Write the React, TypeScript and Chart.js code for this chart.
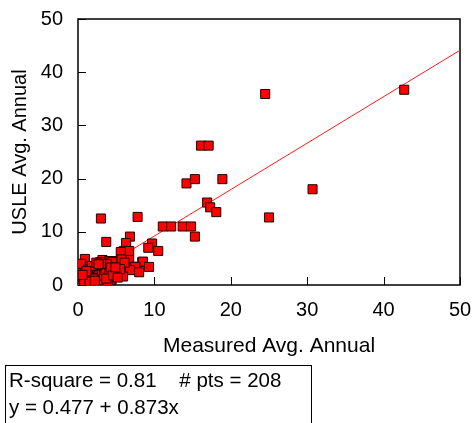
import React, { useEffect, useRef } from "react";
import { Chart, registerables } from "chart.js";

Chart.register(...registerables);

// Measured (x) vs USLE (y) average annual values
const measured: number[] = [
  42.7, 24.5, 16.1, 17.1, 14.2, 15.3, 18.9, 30.7, 16.9, 17.3, 18.1, 25.0,
  7.8, 3.0, 11.1, 12.2, 13.7, 14.8, 15.3, 6.8, 3.7, 6.3, 9.7, 9.2, 10.5,
  6.0, 6.7, 5.6, 0.9, 3.2, 4.1, 5.1, 6.7, 8.4, 8.5, 7.2, 7.5, 9.3, 6.2,
  7.5, 8.0, 6.8, 4.6, 3.3, 3.5, 5.9, 4.0, 4.8, 5.4, 3.8, 4.5, 5.7, 6.1,
  3.6, 4.1, 5.0, 2.8, 3.4, 5.5,
  0.3, 0.5, 0.4, 0.6, 0.4, 0.7, 0.8, 0.9, 1.0, 1.1, 1.2, 1.3, 1.4, 1.5,
  1.6, 1.7, 1.8, 1.9, 2.0, 2.1, 2.2, 2.3, 2.4, 2.5, 2.6, 2.7, 2.8, 2.9,
  3.0, 3.1, 3.2, 3.3, 3.4, 3.6, 3.8, 4.0, 4.1, 4.3, 4.4, 3.9, 2.9, 1.0,
  0.4, 1.3, 2.0, 2.6, 0.8, 1.5, 2.2, 1.8, 2.4, 3.0, 3.7, 4.6, 1.1, 0.6,
  2.7, 4.9, 5.2,
];
const usle: number[] = [
  36.7, 35.9, 26.2, 26.2, 19.1, 19.9, 19.9, 18.0, 15.5, 14.6, 13.7, 12.7,
  12.8, 12.5, 11.0, 11.0, 11.0, 11.0, 9.1, 9.1, 8.1, 7.9, 7.8, 7.0, 6.4,
  6.4, 6.4, 6.2, 4.9, 4.7, 4.5, 4.5, 4.7, 4.3, 4.4, 3.4, 3.4, 3.4, 3.4,
  3.4, 2.4, 2.8, 2.8, 2.5, 0.6, 1.6, 3.6, 3.6, 3.9, 4.2, 4.3, 4.8, 4.2,
  3.2, 2.0, 2.6, 3.8, 3.6, 3.0,
  0.5, 1.5, 2.4, 3.1, 3.4, 1.1, 2.0, 2.9, 0.7, 1.6, 2.4, 0.4, 1.0, 1.9,
  2.8, 0.5, 1.3, 2.2, 0.3, 0.9, 1.7, 2.6, 3.3, 0.6, 1.4, 2.1, 3.0, 0.4,
  1.2, 2.0, 3.6, 0.9, 1.8, 2.7, 3.9, 1.5, 2.3, 3.3, 1.0, 0.4, 4.3, 3.5,
  4.0, 2.9, 1.2, 3.8, 0.3, 0.6, 0.8, 3.6, 4.2, 4.0, 1.2, 1.8, 2.6, 1.9,
  3.9, 3.3, 1.4,
];

const xTicks = [0, 10, 20, 30, 40, 50];
const yTicks = [0, 10, 20, 30, 40, 50];
const intercept = 0.477;
const slope = 0.873;
const rSquare = 0.81;
const nPts = 208;
const fitX = [0, 50];

const FONT = '"Liberation Sans", Arial, sans-serif';

const framePlugin = {
  id: "frame",
  beforeDatasetsDraw(chart: any) {
    const { ctx, chartArea: a, scales } = chart;
    ctx.save();
    ctx.strokeStyle = "#000";
    ctx.lineWidth = 1;
    ctx.beginPath();
    for (const v of xTicks) {
      const px = Math.round(scales.x.getPixelForValue(v)) + 0.5;
      ctx.moveTo(px, a.bottom);
      ctx.lineTo(px, a.bottom - 8);
    }
    for (const v of yTicks) {
      const py = Math.round(scales.y.getPixelForValue(v)) + 0.5;
      ctx.moveTo(a.left, py);
      ctx.lineTo(a.left + 8, py);
    }
    ctx.stroke();
    ctx.lineWidth = 1.5;
    ctx.strokeRect(a.left, a.top, a.right - a.left, a.bottom - a.top);
    ctx.restore();
  },
};

const zeroPad = (s: any) => {
  s.paddingTop = 0;
  s.paddingBottom = 0;
  s.paddingLeft = 0;
  s.paddingRight = 0;
};

export default function App() {
  const ref = useRef<HTMLCanvasElement>(null);
  useEffect(() => {
    const points = measured.map((x, i) => ({ x, y: usle[i] }));
    const fit = fitX.map((x) => ({ x, y: intercept + slope * x }));
    const chart = new Chart(ref.current!, {
      type: "scatter",
      data: {
        datasets: [
          {
            type: "scatter",
            data: points,
            pointStyle: "rect",
            radius: 6.4,
            backgroundColor: "#ff0000",
            borderColor: "#220000",
            borderWidth: 1,
            order: 1,
          } as any,
          {
            type: "line",
            data: fit,
            borderColor: "#ff1a1a",
            borderWidth: 1,
            pointRadius: 0,
            fill: false,
            order: 2,
          } as any,
        ],
      },
      options: {
        responsive: false,
        animation: false,
        devicePixelRatio: 1,
        layout: { padding: { top: 19, right: 12, bottom: 64, left: 8 } },
        plugins: { legend: { display: false }, tooltip: { enabled: false } },
        scales: {
          x: {
            type: "linear",
            min: 0,
            max: 50,
            afterBuildTicks: (s: any) => {
              s.ticks = xTicks.map((v) => ({ value: v }));
            },
            afterFit: (s: any) => {
              s.height = 74;
              zeroPad(s);
            },
            grid: { display: false, drawTicks: false },
            border: { display: false },
            ticks: { color: "#000", padding: 13, font: { family: FONT, size: 20 } },
            title: {
              display: true,
              text: "Measured Avg. Annual",
              color: "#000",
              font: { family: FONT, size: 21 },
              padding: { top: 13, bottom: 0 },
            },
          },
          y: {
            type: "linear",
            min: 0,
            max: 50,
            afterBuildTicks: (s: any) => {
              s.ticks = yTicks.map((v) => ({ value: v }));
            },
            afterFit: (s: any) => {
              s.width = 70;
              zeroPad(s);
            },
            grid: { display: false, drawTicks: false },
            border: { display: false },
            ticks: { color: "#000", padding: 15, font: { family: FONT, size: 20 } },
            title: {
              display: true,
              text: "USLE Avg. Annual",
              color: "#000",
              font: { family: FONT, size: 20 },
              padding: { top: 0, bottom: 9 },
            },
          },
        },
      },
      plugins: [framePlugin],
    } as any);
    return () => chart.destroy();
  }, []);

  return (
    <div
      style={{
        position: "fixed",
        left: 0,
        top: 0,
        width: 472,
        height: 423,
        background: "#fff",
        overflow: "hidden",
      }}
    >
      <canvas
        ref={ref}
        width={472}
        height={423}
        style={{ position: "absolute", left: 0, top: 0, width: 472, height: 423 }}
      />
      <div
        style={{
          position: "absolute",
          left: 5,
          top: 365,
          width: 307,
          height: 80,
          boxSizing: "border-box",
          border: "1px solid #000",
          padding: "0px 3px",
          font: `20.5px ${FONT}`,
          lineHeight: "27px",
          color: "#000",
          whiteSpace: "pre",
        }}
      >
        <div>{`R-square = ${rSquare.toFixed(2)}    # pts = ${nPts}`}</div>
        <div>{`y = ${intercept} + ${slope}x`}</div>
      </div>
    </div>
  );
}
